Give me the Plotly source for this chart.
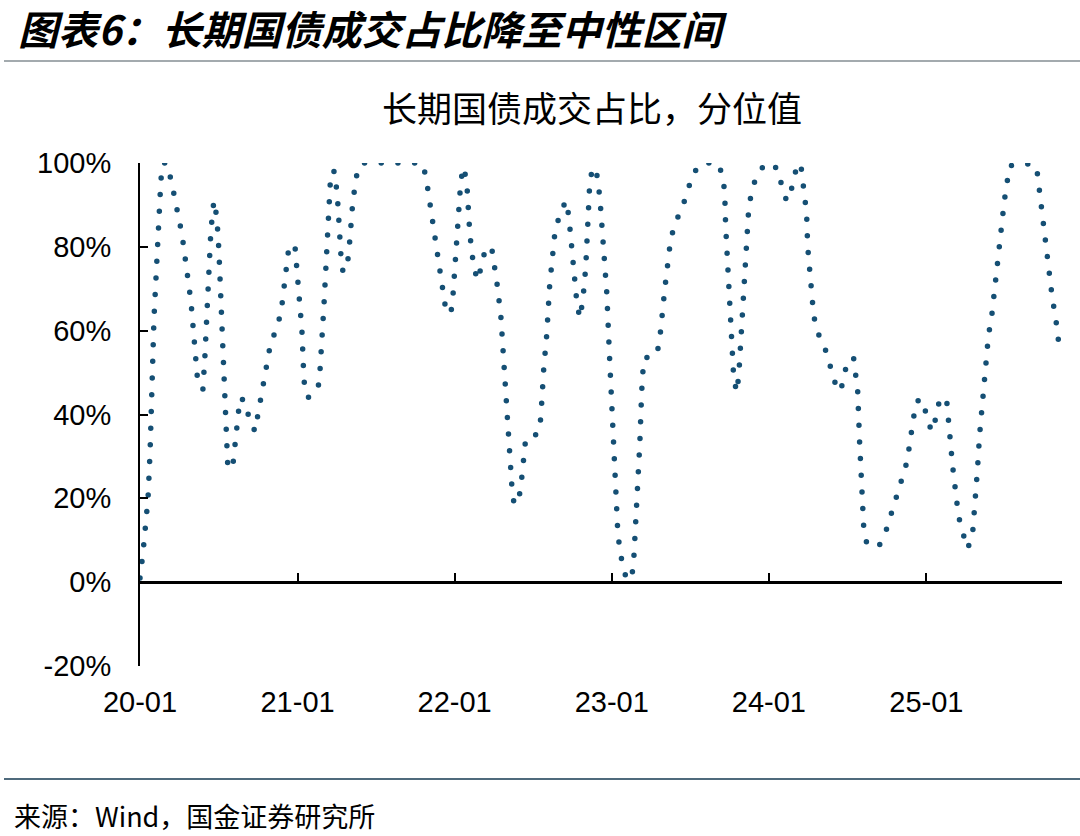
import numpy as np
import pandas as pd
import plotly.graph_objects as go

# ---- data (time in years after 2020-01-01, share percentile in %) ----
years_since_2020 = [
    0.000, 0.019, 0.051, 0.064, 0.089, 0.108, 0.133, 0.146, 0.172, 0.203,
    0.267, 0.324, 0.369, 0.400, 0.413, 0.451, 0.470, 0.489, 0.502, 0.528,
    0.540, 0.553, 0.559, 0.591, 0.610, 0.636, 0.674, 0.693, 0.731, 0.750,
    0.782, 0.826, 0.896, 0.922, 0.947, 0.985, 1.004, 1.030, 1.043, 1.068,
    1.132, 1.144, 1.170, 1.195, 1.214, 1.240, 1.259, 1.278, 1.291, 1.316,
    1.329, 1.354, 1.386, 1.418, 1.793, 1.818, 1.869, 1.913, 1.945, 1.977,
    1.990, 2.009, 2.028, 2.041, 2.060, 2.079, 2.098, 2.123, 2.149, 2.174,
    2.200, 2.238, 2.257, 2.270, 2.295, 2.308, 2.327, 2.346, 2.365, 2.378,
    2.403, 2.422, 2.441, 2.454, 2.530, 2.549, 2.568, 2.587, 2.606, 2.626,
    2.638, 2.664, 2.708, 2.727, 2.746, 2.765, 2.778, 2.797, 2.816, 2.835,
    2.848, 2.861, 2.880, 2.912, 2.931, 2.950, 2.969, 2.988, 3.007, 3.032,
    3.039, 3.051, 3.070, 3.096, 3.128, 3.140, 3.153, 3.166, 3.179, 3.191,
    3.198, 3.204, 3.287, 3.306, 3.338, 3.363, 3.376, 3.408, 3.452, 3.484,
    3.516, 3.573, 3.675, 3.706, 3.719, 3.725, 3.738, 3.757, 3.770, 3.776,
    3.795, 3.808, 3.827, 3.846, 3.859, 3.872, 3.891, 3.922, 3.980, 4.056,
    4.081, 4.113, 4.145, 4.170, 4.202, 4.215, 4.240, 4.247, 4.266, 4.285,
    4.310, 4.355, 4.386, 4.412, 4.456, 4.482, 4.501, 4.539, 4.552, 4.565,
    4.577, 4.584, 4.596, 4.603, 4.622, 4.698, 4.743, 4.774, 4.812, 4.844,
    4.870, 4.889, 4.901, 4.920, 4.939, 4.978, 5.003, 5.035, 5.067, 5.086,
    5.130, 5.137, 5.149, 5.168, 5.181, 5.194, 5.206, 5.232, 5.264, 5.295,
    5.314, 5.327, 5.340, 5.365, 5.384, 5.397, 5.416, 5.442, 5.467, 5.486,
    5.499, 5.512, 5.531, 5.613, 5.702, 5.715, 5.728, 5.740, 5.753, 5.766,
    5.785, 5.804, 5.823, 5.836, 5.849,
]
share_pct = [
    1, 7, 20, 31, 63, 80, 96, 100, 100, 95,
    83, 67, 47, 46, 54, 84, 91, 87, 79, 55,
    43, 31, 27, 28, 36, 44, 43, 39, 36, 40,
    48, 56, 64, 72, 80, 80.5, 73, 60, 48, 44,
    46, 50, 66, 87, 98, 98, 90, 78, 74, 75,
    79, 91, 99, 100, 100, 97, 85, 73, 65, 64,
    68, 80, 92, 96, 99, 95, 83, 75, 72, 76,
    80, 79.5, 75.6, 71.5, 63.6, 55, 43, 31, 23, 19,
    18.6, 22.6, 30.5, 34.5, 35.3, 39, 51, 59, 71, 79,
    83, 87, 91, 87.5, 79, 71, 67, 63, 67, 75,
    87, 95.5, 99, 96.6, 88.7, 80.5, 69, 52.5, 36, 20,
    12, 8, 4, 0.5, 1.2, 5, 13, 25, 33, 45.5,
    49.5, 53.4, 54.2, 58, 70, 78, 82, 86, 89.7, 93.4,
    97.4, 100, 100, 97, 93, 85, 75, 65, 53, 49,
    45.3, 49, 61, 73, 85, 89.3, 93.3, 97, 100, 98.7,
    94.7, 90.9, 94, 98, 100, 96, 88, 80, 71.6, 63.6,
    59.6, 56, 52.2, 48.2, 45.5, 49.3, 53, 53.5, 49.6, 45.5,
    33.5, 25.5, 17.4, 13.3, 9.3, 8.4, 12, 15.8, 19.5, 23.5,
    27.5, 31.3, 35.2, 39.2, 43.2, 43.6, 39.6, 35.9, 39.7, 43.7,
    43.7, 39.7, 35.9, 27.9, 23.7, 19.8, 15.8, 12, 8, 11.2,
    19, 27, 35, 47, 55, 59, 63, 71, 79, 87,
    91.3, 95.3, 99.3, 100, 99.3, 95.3, 91.3, 87.3, 83.3, 79,
    71.3, 67.4, 63.4, 59.4, 55.4,
]
x_tick_dates = ["2020-01-01", "2021-01-01", "2022-01-01", "2023-01-01", "2024-01-01", "2025-01-01"]
x_tick_text = ["20-01", "21-01", "22-01", "23-01", "24-01", "25-01"]
y_tick_vals = [-20, 0, 20, 40, 60, 80, 100]
y_tick_text = ["-20%", "0%", "20%", "40%", "60%", "80%", "100%"]
x_range = ["2020-01-01", "2025-11-12"]

title_text = "图表6：长期国债成交占比降至中性区间"
subtitle_text = "长期国债成交占比，分位值"
source_text = "来源：Wind，国金证券研究所"

base = pd.Timestamp("2020-01-01")
dates = base + pd.to_timedelta(np.array(years_since_2020) * 365.25, unit="D")

LINE_COLOR = "#154f74"
CN_FONT = "Noto Sans CJK SC"
NUM_FONT = "Liberation Sans, Arial"

fig = go.Figure()
fig.add_trace(go.Scatter(
    x=dates, y=share_pct, mode="lines",
    line=dict(color=LINE_COLOR, width=5.5, dash="0px,16.7px"),
    hoverinfo="skip", showlegend=False,
))
# invisible companion trace so the zero-line axis (x2) is drawn
fig.add_trace(go.Scatter(
    x=dates, y=share_pct, mode="lines", xaxis="x2",
    line=dict(width=0), opacity=0, hoverinfo="skip", showlegend=False,
))

# layout geometry (px): plot area 140..1062 x, 163..666 y
L, R, T, B = 140, 18, 163, 170
W, H = 1080, 836
pw, ph = W - L - R, H - T - B

def px_x(x):
    return (x - L) / pw

def px_y(y):
    return (H - B - y) / ph

fig.update_layout(
    width=W, height=H,
    margin=dict(l=L, r=R, t=T, b=B),
    paper_bgcolor="white", plot_bgcolor="white",
    title=dict(
        text="<b><i>" + title_text + "</i></b>",
        xref="container", yref="container", x=18 / W, y=1 - 31 / H,
        xanchor="left", yanchor="middle",
        font=dict(family=CN_FONT, size=40, color="black"),
    ),
    xaxis=dict(
        range=x_range, type="date",
        showline=False, showgrid=False, zeroline=False, ticks="",
        tickvals=x_tick_dates, ticktext=x_tick_text,
        tickfont=dict(family=NUM_FONT, size=29, color="black"),
        ticklabelstandoff=16,
    ),
    xaxis2=dict(
        range=x_range, type="date", overlaying="x", anchor="free",
        position=(0 - (-20)) / 120, side="bottom",
        showline=True, linecolor="black", linewidth=2.5,
        showgrid=False, zeroline=False,
        ticks="inside", ticklen=8, tickwidth=2, tickcolor="black",
        tickvals=x_tick_dates[1:], showticklabels=False,
    ),
    yaxis=dict(
        range=[-20, 100], showline=True, linecolor="black", linewidth=2,
        showgrid=False, zeroline=False,
        ticks="inside", ticklen=8, tickwidth=2, tickcolor="black",
        tickvals=y_tick_vals, ticktext=y_tick_text,
        tickfont=dict(family=NUM_FONT, size=29, color="black"),
        ticklabelstandoff=21,
    ),
    annotations=[
        dict(text=subtitle_text, xref="paper", yref="paper",
             x=px_x(592), y=px_y(107), xanchor="center", yanchor="middle",
             showarrow=False, font=dict(family=CN_FONT, size=35, color="black")),
        dict(text=source_text, xref="paper", yref="paper",
             x=px_x(12), y=px_y(815), xanchor="left", yanchor="middle",
             showarrow=False, font=dict(family=CN_FONT, size=27, color="black")),
    ],
    shapes=[
        dict(type="line", xref="paper", yref="paper",
             x0=px_x(4), x1=px_x(1080), y0=px_y(61), y1=px_y(61),
             line=dict(color="#848e93", width=1.5)),
        dict(type="line", xref="paper", yref="paper",
             x0=px_x(4), x1=px_x(1080), y0=px_y(779), y1=px_y(779),
             line=dict(color="#4f6a7c", width=2)),
    ],
)

post_js = """
document.body.style.margin = '0';
document.body.style.padding = '0';
var gd = document.getElementById('{plot_id}');
function roundCaps(){
  gd.querySelectorAll('.scatterlayer .js-line').forEach(function(p){
    p.style.strokeLinecap = 'round';
  });
}
roundCaps();
gd.on('plotly_afterplot', roundCaps);
"""

fig.write_html("out.html", post_script=post_js, config={"displayModeBar": False})
